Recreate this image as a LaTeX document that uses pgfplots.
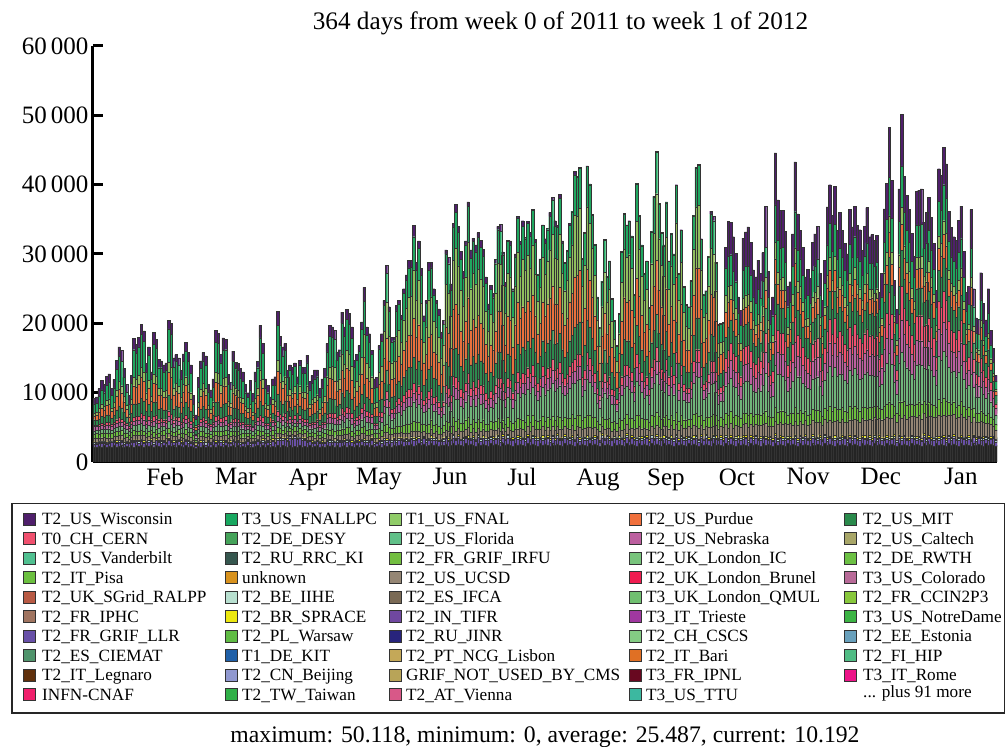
\documentclass[border=0pt]{standalone}
\usepackage{pgfplots}
\usepackage{pgfplotstable}
\usepackage{fontspec}
\setmainfont{Liberation Serif}
\pgfplotsset{compat=1.18}
% daily values, in hundreds; t is the stack height, the top layer is what is left
\pgfplotstableread{
t a b c y d e f g h i j k l
92 22 4 2 1 5 6 5 6 2 8 5 4 14
94 21 5 1 1 6 7 5 5 2 7 8 4 13
106 23 4 2 1 4 6 6 5 3 8 10 5 18
118 22 5 2 1 5 7 5 6 3 10 12 6 20
112 24 3 2 1 6 5 6 5 3 9 11 6 19
124 21 5 1 2 5 8 5 6 4 11 14 7 22
127 23 4 2 1 5 6 7 5 4 11 15 8 24
106 22 6 1 1 4 7 5 6 3 8 10 5 18
119 24 4 2 1 6 6 6 5 3 10 12 7 21
147 22 5 2 3 5 7 6 6 5 14 20 9 30
166 23 6 2 1 7 6 7 6 6 17 24 11 36
161 25 4 1 2 6 8 6 5 5 16 22 10 35
135 21 5 2 1 5 7 8 6 4 13 15 8 27
112 23 4 2 1 6 5 6 6 3 9 11 6 19
96 22 5 1 1 4 6 5 5 2 7 7 4 15
125 24 4 2 1 5 7 6 6 4 11 13 7 23
178 22 6 2 2 6 8 7 6 6 19 26 12 40
170 25 5 1 1 7 6 8 7 6 18 24 11 38
180 23 4 3 2 6 7 9 6 6 19 27 13 41
199 24 6 2 1 5 8 10 7 7 22 30 15 47
189 22 5 2 2 7 7 8 8 7 20 28 14 44
142 24 4 1 1 6 6 7 6 4 14 18 9 29
166 23 6 2 1 5 8 8 7 6 17 24 11 36
130 25 5 2 2 6 6 6 5 4 12 15 7 24
187 22 4 2 1 7 7 9 7 7 20 27 14 43
177 24 7 1 2 6 8 8 6 6 19 25 12 40
148 23 5 2 1 5 6 7 7 5 15 20 10 30
146 21 6 3 1 7 7 7 6 5 14 19 10 30
140 24 4 2 2 6 8 6 5 4 14 18 9 28
143 22 5 1 1 5 7 8 7 5 14 19 9 29
204 25 6 2 2 6 8 10 7 8 23 32 15 48
200 23 5 2 1 7 7 9 8 7 22 31 15 47
150 24 4 1 3 5 6 7 6 5 15 20 10 31
155 22 6 2 1 6 8 8 7 5 16 21 11 32
150 25 5 2 1 7 7 6 6 5 15 20 10 31
132 23 4 2 2 5 6 7 5 4 13 15 8 26
156 21 5 1 1 6 7 9 7 6 16 22 11 33
173 24 6 2 1 7 8 8 6 6 18 25 12 37
158 22 5 3 2 5 6 7 8 5 16 22 11 33
140 23 4 2 1 6 7 6 6 4 14 18 9 28
96 21 5 1 1 4 6 5 5 2 7 7 4 15
68 20 3 1 1 3 4 3 3 2 6 4 3 9
122 23 4 2 1 5 6 6 5 3 11 13 7 22
146 22 6 1 2 6 7 7 6 5 14 19 10 30
158 24 5 2 1 5 8 7 7 5 16 22 11 33
153 21 4 3 1 7 6 8 6 5 15 21 10 32
112 23 5 2 2 5 5 6 5 3 9 11 6 19
104 22 4 1 1 6 6 5 6 3 8 9 5 17
120 24 6 2 1 4 7 6 5 3 10 12 7 21
190 22 5 2 2 7 6 8 7 7 20 29 14 44
186 25 4 1 1 6 8 9 6 7 20 27 14 43
155 23 6 2 1 5 7 7 7 5 16 21 11 32
179 21 5 3 3 6 6 8 6 6 19 26 12 40
177 24 4 2 1 7 8 7 7 6 19 25 12 40
126 22 5 1 1 5 6 6 6 4 11 14 7 24
115 23 4 2 2 6 7 5 5 3 10 12 6 20
160 25 5 2 1 5 6 7 6 5 16 22 11 34
144 22 6 1 1 7 8 7 6 5 14 19 10 29
142 24 4 2 2 6 7 6 7 4 14 18 9 29
135 21 5 2 1 5 6 8 5 4 13 16 8 27
130 23 4 1 1 6 7 6 6 4 12 15 7 24
112 22 5 2 1 5 6 5 6 3 9 11 6 19
100 24 6 1 2 4 5 5 5 3 8 9 5 16
118 21 4 2 1 6 7 5 6 3 10 12 6 20
99 22 5 2 1 4 5 6 5 2 8 8 4 16
130 23 4 1 2 5 6 6 7 4 12 15 7 25
145 24 6 2 1 6 7 7 6 5 14 19 10 29
197 22 5 2 1 7 8 8 7 7 21 30 15 46
171 25 4 3 2 5 6 7 6 6 18 25 12 38
120 21 6 2 1 5 7 6 5 3 10 12 7 21
111 24 5 1 1 6 5 5 6 3 9 11 6 18
94 22 4 2 1 4 6 5 5 2 7 7 4 14
120 23 7 2 2 5 7 6 6 3 10 12 7 21
123 21 6 1 1 6 6 5 7 4 11 13 7 23
217 24 8 2 1 7 8 9 7 8 24 33 16 50
181 22 9 3 2 6 7 8 6 6 19 27 13 41
166 25 7 2 1 5 6 7 7 6 17 23 11 36
171 23 10 1 1 7 8 8 6 6 18 24 11 38
132 22 8 2 2 5 6 6 5 4 13 15 8 26
140 24 11 2 1 6 5 7 6 4 13 17 9 28
137 21 12 1 1 5 7 6 5 4 13 17 8 27
143 23 12 2 2 6 6 5 6 5 14 19 9 29
123 22 11 2 1 4 5 6 5 3 11 14 7 23
147 24 10 1 1 6 7 7 6 5 14 19 10 30
137 22 9 3 1 5 6 6 7 4 13 17 8 27
137 23 8 2 2 6 7 5 5 4 13 17 9 27
154 21 7 2 1 5 8 7 6 5 16 21 11 33
116 24 6 1 1 5 5 6 5 3 10 12 6 20
125 22 5 2 2 6 6 5 6 4 11 14 7 23
133 23 4 2 1 5 7 7 5 4 13 15 8 26
133 25 5 1 1 6 6 6 7 4 13 15 8 26
106 21 6 2 1 4 5 5 6 3 8 10 5 18
120 23 4 2 2 5 7 6 5 3 10 12 7 21
135 22 5 1 1 6 6 7 6 4 13 16 8 27
171 24 6 2 1 7 8 8 7 6 18 24 12 36
197 23 5 3 2 6 7 10 8 7 21 29 16 44
195 25 4 2 1 7 8 9 7 7 21 29 18 42
190 22 6 1 1 5 9 11 8 7 20 27 20 40
159 24 5 2 2 6 7 8 6 5 16 21 14 31
162 21 7 2 1 7 8 9 7 5 16 22 15 32
216 23 6 1 1 8 9 12 9 8 23 32 24 44
195 25 5 2 2 6 8 10 8 7 20 28 20 40
220 22 7 3 1 7 10 13 8 8 24 33 25 45
214 24 6 2 1 8 9 11 9 8 22 32 24 43
195 23 5 1 2 6 8 10 8 7 20 28 20 40
147 21 6 2 1 5 7 8 6 5 14 19 14 29
155 24 4 2 1 7 8 7 7 5 16 21 15 30
168 22 7 1 3 6 7 9 7 6 17 24 17 34
202 25 5 2 1 8 9 11 9 7 21 29 24 40
252 23 6 3 2 7 10 14 10 10 27 39 33 48
195 24 5 2 1 6 8 12 8 7 20 28 22 40
185 22 7 1 1 8 9 10 7 7 19 26 20 36
161 25 6 2 2 5 7 9 8 5 16 22 16 32
120 21 5 2 1 6 6 7 5 3 10 12 7 21
122 23 4 1 1 5 7 6 6 3 10 13 7 22
168 24 6 2 2 7 8 10 7 6 17 23 17 34
185 22 5 3 1 6 9 11 8 7 19 25 22 36
233 25 7 2 1 8 10 17 10 9 25 36 38 38
284 23 6 2 3 9 12 24 12 11 31 45 52 42
224 26 5 1 1 7 10 18 11 9 24 34 35 36
180 22 7 2 1 8 9 12 9 6 18 25 24 30
180 25 6 2 2 6 8 14 8 6 18 26 24 30
226 23 5 3 1 9 11 18 10 8 24 34 36 36
233 24 8 2 1 7 10 20 11 9 25 35 38 38
212 26 6 1 2 8 9 16 12 8 22 31 32 33
250 23 7 2 1 9 11 22 11 10 27 38 44 38
270 25 5 3 2 7 12 25 13 10 30 42 48 40
291 24 6 2 1 9 13 26 12 12 32 46 55 42
291 26 7 2 2 8 11 24 14 11 32 46 56 42
341 23 8 3 1 10 14 28 13 13 38 56 70 48
288 25 6 2 3 9 12 22 12 11 32 46 54 42
319 27 7 1 2 8 13 26 14 12 36 52 64 46
279 24 5 3 1 10 11 24 13 11 31 44 52 40
211 26 8 2 1 7 10 18 10 7 22 32 30 30
233 23 6 2 2 9 11 20 12 9 25 36 40 34
288 25 7 1 1 8 12 24 13 11 32 46 54 42
288 27 5 3 3 10 13 22 12 11 32 46 54 42
250 24 8 2 1 7 11 20 11 10 27 38 44 38
233 26 6 2 2 9 10 19 12 9 25 35 40 34
221 23 7 1 1 8 11 18 10 8 24 33 36 32
187 25 5 2 1 7 9 15 9 6 20 27 24 28
204 24 6 3 2 8 10 16 11 7 22 30 30 30
306 26 8 2 1 9 13 26 14 12 33 50 62 44
295 23 7 2 3 10 12 24 13 12 32 48 58 42
257 25 6 1 1 8 11 22 12 10 28 40 46 38
344 27 8 3 2 11 14 30 15 14 39 58 70 48
372 24 7 2 1 10 15 32 16 15 42 64 80 52
340 26 9 2 3 9 13 28 14 13 38 58 70 48
304 25 6 1 1 11 12 24 13 12 33 50 60 44
275 23 8 3 2 9 11 22 12 11 30 44 50 40
319 27 7 2 1 10 14 26 15 12 35 54 64 46
375 24 9 2 3 12 15 32 16 15 43 66 80 52
306 26 6 1 1 9 12 26 14 12 33 50 60 44
323 25 8 3 2 11 13 28 13 13 36 54 66 46
313 23 7 2 1 10 14 24 15 12 35 52 62 46
331 27 9 2 2 9 13 30 14 13 37 56 66 46
320 24 6 3 1 11 12 26 15 13 35 54 64 46
307 26 8 1 3 10 13 24 13 12 33 50 60 44
267 25 7 2 1 9 11 22 12 10 29 42 48 40
228 23 9 2 2 8 10 19 11 8 25 35 36 32
255 27 6 3 1 10 12 20 13 10 27 40 44 36
243 24 8 2 3 9 11 20 12 9 26 38 40 35
292 26 7 1 1 11 13 26 14 12 31 46 56 42
340 25 9 3 2 10 14 30 15 13 38 58 70 48
343 23 6 2 1 12 13 34 16 14 38 58 68 48
303 27 8 2 3 9 12 28 13 12 33 50 58 44
259 24 7 1 1 11 11 24 12 10 28 40 46 38
320 26 9 3 2 10 14 30 14 13 35 54 62 46
319 25 6 2 1 12 13 32 15 12 35 52 62 46
250 23 8 2 3 9 11 22 12 10 27 38 44 38
300 27 7 1 1 11 12 30 14 12 33 50 56 42
354 24 9 3 2 10 15 36 16 15 40 60 72 50
318 26 6 2 3 12 13 32 14 13 35 52 60 46
348 25 8 2 1 11 14 38 15 14 38 58 68 48
324 23 7 3 2 10 13 40 16 13 35 54 60 46
347 27 9 1 3 12 15 38 17 14 38 58 66 46
331 24 6 2 1 11 14 42 15 13 36 54 62 46
361 26 8 3 2 13 16 40 16 15 40 62 72 50
321 25 7 2 3 10 13 36 15 13 35 52 60 46
271 23 9 2 1 12 12 30 13 11 29 42 48 38
293 27 6 1 2 11 14 34 14 12 31 48 52 40
341 24 8 3 3 13 15 42 16 14 37 56 64 46
322 26 7 2 1 10 13 38 15 13 34 52 60 44
337 25 9 2 2 12 14 40 17 14 36 56 62 46
360 23 6 3 3 11 16 44 16 15 39 60 70 48
382 27 8 2 1 13 15 48 18 16 42 64 74 50
348 24 7 1 2 12 14 42 16 14 38 58 66 46
341 26 9 3 3 10 15 40 15 14 37 56 64 46
386 25 6 2 1 14 16 46 18 16 42 66 76 52
319 23 8 2 2 12 14 38 16 13 34 52 58 44
283 27 7 3 3 11 13 32 14 11 30 46 50 40
300 24 9 2 1 13 14 36 15 12 32 50 54 42
344 26 6 2 2 12 15 44 17 14 37 56 64 46
360 25 8 3 3 14 16 44 16 15 39 60 70 48
419 23 7 2 1 13 17 50 18 17 46 72 90 58
410 27 9 2 2 12 16 50 20 17 44 70 86 56
425 24 6 3 3 14 18 52 18 18 46 74 90 58
293 26 8 1 1 11 14 34 15 12 31 48 52 40
328 25 7 2 2 13 15 40 16 13 35 54 62 46
426 23 9 3 3 12 18 52 20 18 46 74 90 58
401 27 6 2 1 14 17 48 18 17 44 68 82 56
355 24 8 2 2 13 16 44 16 15 38 60 70 48
310 26 7 3 3 11 14 36 15 13 33 50 58 44
231 25 9 2 1 10 12 26 13 9 24 36 38 32
190 23 6 1 2 12 11 22 12 7 20 27 24 26
251 27 8 3 3 11 13 28 13 10 26 40 42 36
320 24 7 2 1 13 15 38 15 13 34 52 60 46
261 26 9 2 2 10 13 30 14 10 27 42 46 36
280 25 6 3 3 12 14 34 15 11 30 46 50 40
231 23 8 2 1 11 12 26 13 9 24 36 38 32
197 27 7 1 2 10 12 24 12 8 20 28 26 26
163 24 9 2 1 9 11 18 10 6 17 22 16 22
203 26 6 3 3 12 13 24 13 8 21 28 28 28
300 25 8 2 1 10 14 36 15 12 32 48 56 44
359 23 7 2 2 13 16 44 17 15 38 60 70 50
334 27 9 3 3 12 15 40 16 14 36 56 64 46
348 24 6 2 1 14 16 42 18 14 38 58 66 48
324 26 8 2 2 11 14 38 16 13 35 54 60 46
233 25 7 1 3 12 12 28 13 9 25 36 38 32
395 23 9 3 1 13 18 50 20 18 42 68 82 54
351 27 6 2 2 14 16 44 17 15 38 58 68 48
307 24 8 2 3 11 15 38 15 13 33 50 56 44
264 26 7 3 1 12 13 30 14 11 28 42 46 38
283 25 9 2 2 10 14 34 15 12 30 46 50 40
218 23 6 1 3 13 12 26 12 9 23 32 32 30
327 27 8 3 1 12 16 40 16 14 35 54 60 46
380 24 7 2 2 14 17 48 18 16 42 64 76 52
442 26 9 2 3 13 19 54 20 19 48 78 96 60
367 25 6 3 1 15 16 46 18 16 40 62 74 50
331 23 8 2 2 12 15 42 16 14 36 54 60 46
306 27 7 1 3 13 14 36 15 13 33 50 56 44
368 24 9 3 1 14 17 46 18 16 40 62 74 50
283 26 6 2 2 12 14 34 15 12 30 46 50 40
324 25 8 2 3 15 15 40 16 14 35 52 58 46
295 23 7 3 1 13 14 36 15 13 32 48 52 42
389 27 9 2 2 14 18 50 20 17 42 66 78 54
267 24 6 1 3 12 13 30 14 11 29 42 48 38
330 26 8 3 1 15 15 40 17 14 35 54 60 46
247 25 7 2 2 13 12 28 13 10 26 38 40 36
221 23 9 2 3 12 12 26 12 8 23 32 34 30
219 27 6 3 1 14 11 24 13 8 22 32 32 30
257 24 8 2 2 13 13 30 13 11 27 40 42 36
354 26 7 2 3 15 16 44 17 15 38 58 66 48
414 25 9 3 1 14 18 54 20 18 46 72 88 56
426 23 6 2 2 16 17 56 22 18 46 72 90 58
319 27 8 2 3 13 15 40 16 13 34 50 56 44
238 24 7 1 1 15 12 30 13 9 25 36 36 32
240 26 9 3 2 12 13 28 14 10 25 36 36 32
296 25 6 2 3 14 14 36 15 12 31 46 50 42
362 23 8 2 1 16 16 46 18 16 38 58 66 50
354 27 7 3 2 13 17 44 17 15 37 56 62 48
283 24 9 2 3 15 14 34 15 13 30 44 44 40
199 26 6 1 1 14 12 24 13 8 20 26 20 26
200 25 8 3 2 13 13 24 12 8 20 27 18 26
201 23 7 2 3 15 12 26 14 9 21 26 16 26
310 27 9 2 1 16 15 40 20 20 30 36 24 40
347 24 6 3 2 14 18 46 24 24 34 36 22 44
346 26 8 2 3 17 17 48 26 24 34 30 20 44
325 25 7 1 1 15 16 44 24 24 32 26 18 42
301 23 9 3 2 16 15 40 22 22 30 24 16 38
238 27 6 2 3 14 14 30 18 16 24 18 12 30
219 24 8 2 1 15 13 28 18 14 22 16 10 26
323 26 7 3 2 16 16 44 26 24 32 24 16 40
332 25 9 2 3 17 15 46 24 26 32 24 18 42
339 23 6 2 1 18 18 48 26 26 34 24 16 40
317 27 8 1 2 16 16 42 24 24 32 24 16 38
277 24 7 3 3 15 14 36 22 20 28 20 12 34
267 26 9 2 1 17 14 32 20 20 26 18 12 32
291 25 6 2 2 18 16 38 22 22 28 20 14 36
272 23 8 3 3 16 15 34 24 20 26 18 12 34
302 27 7 2 1 17 17 40 24 24 30 22 14 36
369 24 9 2 2 19 18 54 30 28 36 26 18 44
275 26 6 1 3 16 14 36 22 20 28 20 12 34
219 25 8 3 1 15 13 28 18 14 22 16 10 26
238 23 7 2 2 17 14 30 20 16 24 18 10 28
446 27 9 2 3 18 20 60 36 38 44 36 24 54
378 24 6 3 1 20 18 54 32 32 38 28 18 46
363 26 8 2 2 19 17 52 30 30 36 26 16 44
363 25 7 2 3 18 19 50 32 30 36 26 18 44
333 23 9 3 1 20 16 46 28 28 34 24 16 40
253 27 6 2 2 17 14 34 20 18 26 18 10 30
260 24 8 2 3 19 15 36 22 18 26 18 10 30
329 26 7 1 1 18 17 46 28 26 32 24 16 40
433 25 9 3 2 20 20 58 36 36 44 34 22 52
358 23 6 2 3 19 18 52 30 30 36 26 16 44
334 27 8 2 1 21 16 48 28 28 34 24 16 40
310 24 7 3 2 18 17 42 26 26 30 22 14 38
267 26 9 2 3 20 14 36 22 20 26 18 10 30
278 25 6 2 1 19 15 38 22 22 28 18 12 32
265 23 8 1 2 21 14 36 20 20 26 18 10 30
317 27 7 3 3 20 16 44 26 24 32 22 14 38
329 24 9 2 1 22 17 46 28 26 32 24 14 38
340 26 6 2 2 21 18 48 28 28 34 24 16 40
272 25 8 3 3 19 15 36 22 20 28 18 12 32
233 23 7 2 1 20 13 30 20 16 24 16 10 28
291 27 9 2 2 22 16 40 24 22 28 20 12 34
368 24 6 3 3 21 18 54 30 30 36 26 18 44
400 26 8 2 1 23 20 58 34 34 40 30 20 48
356 25 7 1 2 22 17 50 30 30 36 26 16 42
398 23 9 3 3 21 20 58 34 36 40 30 20 46
334 27 6 2 1 24 16 48 28 28 34 24 14 40
360 24 8 2 2 22 18 50 32 30 36 26 16 42
334 26 7 3 3 23 17 48 28 28 34 24 14 40
315 25 9 2 1 21 16 44 26 26 32 22 14 38
300 23 6 2 2 24 15 42 24 24 30 20 14 36
364 27 8 1 3 22 19 52 32 30 36 26 16 42
339 24 7 3 1 25 17 48 30 28 34 24 14 40
369 26 9 2 2 23 19 54 32 32 38 26 18 44
341 25 6 2 3 24 18 48 30 28 34 24 14 40
335 23 8 3 1 22 17 46 30 28 34 24 14 40
305 27 7 2 2 25 16 42 26 24 30 20 12 36
340 24 9 2 3 23 18 48 30 28 34 24 14 40
367 26 6 1 1 26 18 52 32 30 38 26 16 44
325 25 8 3 2 24 17 46 28 28 32 22 14 38
328 23 7 2 3 26 18 46 30 28 32 22 12 38
320 27 9 2 1 25 16 44 28 26 32 22 12 38
327 24 6 3 2 27 18 44 30 28 32 22 14 38
245 26 8 2 3 24 14 32 22 18 24 14 8 26
272 25 7 2 1 26 15 36 24 20 26 16 10 30
365 23 9 1 2 27 19 50 32 32 36 26 16 44
402 27 6 3 3 25 20 58 36 36 42 28 18 48
483 24 8 2 1 28 24 70 42 46 50 36 24 56
406 26 7 2 2 26 20 58 36 36 42 30 18 48
262 25 9 3 3 27 14 34 24 20 26 16 10 30
220 23 6 2 1 25 13 28 20 14 22 14 8 24
394 27 8 2 2 28 20 56 36 34 40 28 18 48
501 24 7 3 3 26 24 72 46 48 52 38 24 60
412 26 9 2 1 29 21 58 38 38 42 30 18 48
385 25 6 2 2 27 20 54 34 34 40 28 16 46
364 23 8 1 3 30 18 50 32 32 36 26 16 42
330 27 7 3 1 28 17 44 28 28 32 22 14 38
297 24 9 2 2 29 16 38 26 24 30 20 12 34
390 26 6 2 3 27 20 56 36 34 40 28 18 46
392 25 8 3 1 30 20 54 34 36 40 28 16 46
394 23 7 2 2 28 21 56 36 36 40 28 18 46
346 27 9 2 3 29 18 48 30 30 34 24 14 40
360 24 6 3 1 31 19 50 32 32 36 26 14 42
382 26 8 2 2 28 20 54 34 34 38 28 16 44
353 25 7 1 3 30 18 48 32 30 34 24 14 40
315 23 9 3 1 29 17 42 28 26 30 22 12 36
248 27 6 2 2 28 14 32 22 18 24 14 8 26
423 24 8 2 3 31 22 62 40 40 44 32 18 50
413 26 7 3 1 29 21 60 38 38 44 30 18 48
454 25 9 2 2 30 24 68 42 44 48 34 20 52
430 23 6 2 3 32 22 64 40 42 46 32 18 50
362 27 8 2 1 30 19 50 34 32 36 24 14 42
338 24 7 3 2 31 17 46 30 30 34 22 12 38
325 26 9 2 3 29 18 44 28 28 32 22 12 36
320 25 6 1 1 30 16 44 28 26 32 22 12 36
349 23 8 3 2 28 18 48 30 30 34 24 14 40
369 27 7 2 3 30 19 52 32 32 36 26 14 42
304 24 9 2 1 28 16 40 26 24 30 20 12 34
245 26 6 2 2 26 14 30 22 18 24 14 8 26
253 25 8 3 3 27 13 32 22 18 24 16 8 28
364 23 7 2 1 24 19 50 32 32 36 26 14 42
250 27 9 1 2 25 14 30 22 18 24 16 8 28
208 24 6 3 3 22 12 24 18 14 20 12 6 22
206 26 8 2 1 21 12 24 16 14 20 12 6 22
273 25 7 2 2 23 15 34 22 20 26 18 10 30
229 23 9 2 3 20 13 28 18 16 22 14 8 24
205 27 6 3 1 19 12 24 16 14 20 12 6 22
250 24 8 2 2 20 14 30 20 18 24 16 8 28
190 26 7 1 3 17 11 22 16 12 18 10 6 20
164 25 9 2 1 15 10 18 12 10 14 8 4 16
125 23 6 2 2 13 8 14 10 6 12 6 3 12
101 24 8 3 1 10 7 10 8 4 8 4 2 8
}\daydata
\definecolor{cA}{HTML}{242424}
\definecolor{cB}{HTML}{6A50A8}
\definecolor{cC}{HTML}{B8E0D0}
\definecolor{cY}{HTML}{ECE810}
\definecolor{cD}{HTML}{958674}
\definecolor{cE}{HTML}{6CC040}
\definecolor{cF}{HTML}{6FB57A}
\definecolor{cG}{HTML}{BC5F9F}
\definecolor{cH}{HTML}{F0506E}
\definecolor{cI}{HTML}{2D8A4E}
\definecolor{cJ}{HTML}{E8703C}
\definecolor{cK}{HTML}{90BF5E}
\definecolor{cL}{HTML}{1FA760}
\definecolor{cW}{HTML}{4F1F6B}
\newcommand\sz[1]{\fontsize{#1}{#1}\selectfont}
% one legend entry: left edge, row, colour, name
\newcommand\entry[4]{%
  \definecolor{tmp}{HTML}{#3}%
  \filldraw[fill=tmp,draw=black!80,line width=0.9pt] (#1pt,{(228-(#2-1)*19.55-6)*1pt}) rectangle ++(12pt,12pt);
  \node[anchor=base west,inner sep=0pt] at ({(#1+\ifnum#1>30 \ifnum#1<800 17\else 19\fi\else 19\fi)*1pt},{(228-(#2-1)*19.55-5.5)*1pt}) {\sz{17.2}#4};
}
\begin{document}
\begin{tikzpicture}
\path[use as bounding box] (0,0) rectangle (1005pt,747pt);
\begin{axis}[
  at={(93pt,285pt)},
  anchor=south west,
  scale only axis,
  width=904pt,
  height=416pt,
  xmin=0, xmax=365,
  ymin=0, ymax=60000,
  ybar stacked,
  bar width=2.5pt,
  axis x line*=bottom,
  axis y line*=left,
  axis line style={line width=3pt,-},
  xtick={29.1,57.7,86.8,115.5,144.1,173.2,203.9,231.3,260,288.7,318.1,350.4},
  xticklabels={Feb,Mar,Apr,May,Jun,Jul,Aug,Sep,Oct,Nov,Dec,Jan},
  ytick={0,10000,...,60000},
  scaled y ticks=false,
  /pgf/number format/assume math mode=true,
  /pgf/number format/1000 sep={\,},
  tick label style={font=\sz{25}},
  tick align=inside,
  major tick length=10pt,
  y tick style={line width=3pt,black},
  x tick style={draw=none},
  xticklabel style={yshift=-3pt},
  yticklabel style={xshift=-1pt},
  every axis plot/.append style={draw=black!80,line width=0.3pt},
]
\addplot[fill=cA] table[x expr=\coordindex+0.5,y expr=\thisrow{a}*100] {\daydata};
\addplot[fill=cB] table[x expr=\coordindex+0.5,y expr=\thisrow{b}*100] {\daydata};
\addplot[fill=cC] table[x expr=\coordindex+0.5,y expr=\thisrow{c}*100] {\daydata};
\addplot[fill=cY] table[x expr=\coordindex+0.5,y expr=\thisrow{y}*100] {\daydata};
\addplot[fill=cD] table[x expr=\coordindex+0.5,y expr=\thisrow{d}*100] {\daydata};
\addplot[fill=cE] table[x expr=\coordindex+0.5,y expr=\thisrow{e}*100] {\daydata};
\addplot[fill=cF] table[x expr=\coordindex+0.5,y expr=\thisrow{f}*100] {\daydata};
\addplot[fill=cG] table[x expr=\coordindex+0.5,y expr=\thisrow{g}*100] {\daydata};
\addplot[fill=cH] table[x expr=\coordindex+0.5,y expr=\thisrow{h}*100] {\daydata};
\addplot[fill=cI] table[x expr=\coordindex+0.5,y expr=\thisrow{i}*100] {\daydata};
\addplot[fill=cJ] table[x expr=\coordindex+0.5,y expr=\thisrow{j}*100] {\daydata};
\addplot[fill=cK] table[x expr=\coordindex+0.5,y expr=\thisrow{k}*100] {\daydata};
\addplot[fill=cL] table[x expr=\coordindex+0.5,y expr=\thisrow{l}*100] {\daydata};
\addplot[fill=cW] table[x expr=\coordindex+0.5,
  y expr={max(\thisrow{t}-\thisrow{a}-\thisrow{b}-\thisrow{c}-\thisrow{y}-\thisrow{d}-\thisrow{e}-\thisrow{f}-\thisrow{g}-\thisrow{h}-\thisrow{i}-\thisrow{j}-\thisrow{k}-\thisrow{l},1)*100}] {\daydata};
\end{axis}
\node[anchor=base] at (560.5pt,{(747-30)*1pt}) {\sz{25.2}364 days from week 0 of 2011 to week 1 of 2012};
\draw[black!85,line width=1.4pt] (12pt,{(747-713)*1pt}) rectangle (1004.3pt,{(747-503.5)*1pt});
\entry{23}{1}{4F1F6B}{T2\_US\_Wisconsin}
\entry{225}{1}{18A860}{T3\_US\_FNALLPC}
\entry{389}{1}{90CC68}{T1\_US\_FNAL}
\entry{629}{1}{F0703C}{T2\_US\_Purdue}
\entry{844}{1}{2A8A4C}{T2\_US\_MIT}
\entry{23}{2}{F0506E}{T0\_CH\_CERN}
\entry{225}{2}{45A35A}{T2\_DE\_DESY}
\entry{389}{2}{60C088}{T2\_US\_Florida}
\entry{629}{2}{BC5F9F}{T2\_US\_Nebraska}
\entry{844}{2}{A8A668}{T2\_US\_Caltech}
\entry{23}{3}{50C090}{T2\_US\_Vanderbilt}
\entry{225}{3}{36574F}{T2\_RU\_RRC\_KI}
\entry{389}{3}{72BE40}{T2\_FR\_GRIF\_IRFU}
\entry{629}{3}{78C47C}{T2\_UK\_London\_IC}
\entry{844}{3}{6CC044}{T2\_DE\_RWTH}
\entry{23}{4}{6CC040}{T2\_IT\_Pisa}
\entry{225}{4}{D8921E}{unknown}
\entry{389}{4}{958674}{T2\_US\_UCSD}
\entry{629}{4}{F01C50}{T2\_UK\_London\_Brunel}
\entry{844}{4}{B86A98}{T3\_US\_Colorado}
\entry{23}{5}{B85A44}{T2\_UK\_SGrid\_RALPP}
\entry{225}{5}{B8E0D0}{T2\_BE\_IIHE}
\entry{389}{5}{7A6A55}{T2\_ES\_IFCA}
\entry{629}{5}{70C070}{T3\_UK\_London\_QMUL}
\entry{844}{5}{88C83C}{T2\_FR\_CCIN2P3}
\entry{23}{6}{A07460}{T2\_FR\_IPHC}
\entry{225}{6}{ECE810}{T2\_BR\_SPRACE}
\entry{389}{6}{7048A0}{T2\_IN\_TIFR}
\entry{629}{6}{A038A0}{T3\_IT\_Trieste}
\entry{844}{6}{3CB444}{T3\_US\_NotreDame}
\entry{23}{7}{6850A8}{T2\_FR\_GRIF\_LLR}
\entry{225}{7}{60BC44}{T2\_PL\_Warsaw}
\entry{389}{7}{28247C}{T2\_RU\_JINR}
\entry{629}{7}{84CC84}{T2\_CH\_CSCS}
\entry{844}{7}{68A0BC}{T2\_EE\_Estonia}
\entry{23}{8}{50946C}{T2\_ES\_CIEMAT}
\entry{225}{8}{2060A8}{T1\_DE\_KIT}
\entry{389}{8}{C4A858}{T2\_PT\_NCG\_Lisbon}
\entry{629}{8}{E07024}{T2\_IT\_Bari}
\entry{844}{8}{50BC84}{T2\_FI\_HIP}
\entry{23}{9}{60300C}{T2\_IT\_Legnaro}
\entry{225}{9}{9098D0}{T2\_CN\_Beijing}
\entry{389}{9}{B8A458}{GRIF\_NOT\_USED\_BY\_CMS}
\entry{629}{9}{680820}{T3\_FR\_IPNL}
\entry{844}{9}{EC1488}{T3\_IT\_Rome}
\entry{23}{10}{F0206C}{INFN-CNAF}
\entry{225}{10}{30B048}{T2\_TW\_Taiwan}
\entry{389}{10}{D85888}{T2\_AT\_Vienna}
\entry{629}{10}{3CB8A0}{T3\_US\_TTU}
\node[anchor=base west,inner sep=0pt] at (863pt,{(228-9*19.55-2.5)*1pt}) {\sz{17.2}... plus 91 more};
\node[anchor=base] at (545pt,{(747-743)*1pt}) {\sz{23.7}maximum: 50.118, minimum: 0, average: 25.487, current: 10.192};
\end{tikzpicture}
\end{document}
